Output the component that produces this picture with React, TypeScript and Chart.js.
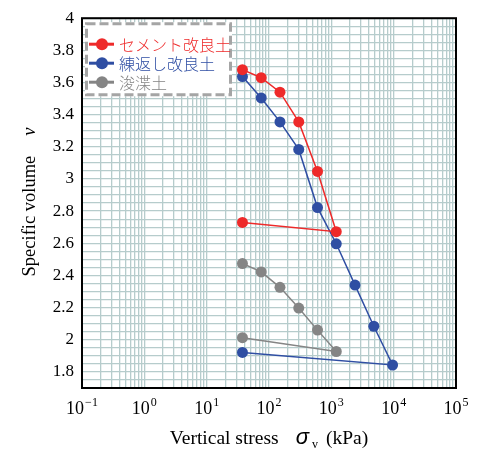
import React, { useEffect, useRef } from 'react';
import { Chart, registerables } from 'chart.js';

Chart.register(...registerables);

const seriesNames = ['セメント改良土', '練返し改良土', '浚渫土'];
const seriesColors = ['#ee2a2a', '#2f4ea3', '#858585'];

const cementStress = [37.5, 75, 150, 300, 600, 1200, 37.5];
const cementVolume = [3.68, 3.63, 3.54, 3.355, 3.047, 2.672, 2.73];

const remoldStress = [37.5, 75, 150, 300, 600, 1200, 2400, 4800, 9600, 37.5];
const remoldVolume = [3.637, 3.504, 3.355, 3.184, 2.822, 2.597, 2.34, 2.084, 1.843, 1.921];

const dredgedStress = [37.5, 75, 150, 300, 600, 1200, 37.5];
const dredgedVolume = [2.474, 2.422, 2.326, 2.197, 2.06, 1.927, 2.013];

const xExponents = [-1, 0, 1, 2, 3, 4, 5];
const yMin = 1.7;
const yMax = 4;
const yGridStepHundredths = 5;
const yLabelStepHundredths = 20;

const SERIF = '"Liberation Serif", "DejaVu Serif", serif';
const SANS = '"Liberation Sans", "DejaVu Sans", sans-serif';
const CJK = '"Noto Sans CJK JP", "Noto Sans", sans-serif';

const toPoints = (xs: number[], ys: number[]) => xs.map((x, i) => ({ x, y: ys[i] }));

const customPlugin = {
  id: 'customDecor',
  afterDatasetsDraw(chart: any) {
    const ctx = chart.ctx as CanvasRenderingContext2D;
    const ca = chart.chartArea;
    const left = ca.left + 3;
    const top = ca.top + 4;
    const w = 147;
    const h = 74;
    ctx.save();
    ctx.fillStyle = '#ffffff';
    ctx.fillRect(left, top, w, h);
    ctx.setLineDash([9, 4]);
    ctx.strokeStyle = '#a5a5a5';
    ctx.lineWidth = 3;
    ctx.strokeRect(left + 1.5, top + 1.5, w - 3, h - 3);
    ctx.setLineDash([]);
    seriesNames.forEach((name, i) => {
      const y = top + 22 + i * 19;
      const color = seriesColors[i];
      ctx.strokeStyle = color;
      ctx.lineWidth = 3;
      ctx.beginPath();
      ctx.moveTo(left + 4, y);
      ctx.lineTo(left + 29, y);
      ctx.stroke();
      ctx.fillStyle = color;
      ctx.beginPath();
      ctx.arc(left + 17, y, 6, 0, Math.PI * 2);
      ctx.fill();
      ctx.font = `300 16px ${CJK}`;
      ctx.textBaseline = 'middle';
      ctx.textAlign = 'left';
      ctx.fillText(name, left + 34, y + 1);
    });
    ctx.restore();
  },
  afterDraw(chart: any) {
    const ctx = chart.ctx as CanvasRenderingContext2D;
    const ca = chart.chartArea;
    const xs = chart.scales.x;
    ctx.save();
    // frame
    ctx.strokeStyle = '#000';
    ctx.lineWidth = 2;
    ctx.strokeRect(ca.left, ca.top, ca.right - ca.left, ca.bottom - ca.top);

    // x tick labels 10^n
    ctx.fillStyle = '#000';
    ctx.textBaseline = 'alphabetic';
    ctx.textAlign = 'left';
    xExponents.forEach((e) => {
      const px = xs.getPixelForValue(Math.pow(10, e));
      const base = '10';
      const exp = String(e).replace('-', '\u2212');
      ctx.font = `18px ${SERIF}`;
      const bw = ctx.measureText(base).width;
      ctx.font = `12px ${SERIF}`;
      const ew = ctx.measureText(exp).width;
      const total = bw + 1 + ew;
      const x0 = px - total / 2;
      ctx.font = `18px ${SERIF}`;
      ctx.fillText(base, x0, ca.bottom + 26);
      ctx.font = `12px ${SERIF}`;
      ctx.fillText(exp, x0 + bw + 1, ca.bottom + 18);
    });

    // x title
    const parts = [
      { t: 'Vertical stress', f: `19.5px ${SERIF}`, dy: 0, gap: 17 },
      { t: 'σ', f: `italic 22px ${SANS}`, dy: 0, gap: 3 },
      { t: 'v', f: `12px ${SERIF}`, dy: 4, gap: 8 },
      { t: '(kPa)', f: `19.5px ${SERIF}`, dy: 0, gap: 0 },
    ];
    let totalW = 0;
    parts.forEach((p) => {
      ctx.font = p.f;
      totalW += ctx.measureText(p.t).width + p.gap;
    });
    let cx = (ca.left + ca.right) / 2 - totalW / 2;
    const by = ca.bottom + 56;
    parts.forEach((p) => {
      ctx.font = p.f;
      ctx.fillText(p.t, cx, by + p.dy);
      cx += ctx.measureText(p.t).width + p.gap;
    });

    // y title (rotated)
    ctx.translate(35, 202);
    ctx.rotate(-Math.PI / 2);
    ctx.font = `18.5px ${SERIF}`;
    const t1 = 'Specific volume';
    const w1 = ctx.measureText(t1).width;
    ctx.font = `italic 18.5px ${SERIF}`;
    const w2 = ctx.measureText('v').width;
    const gap = 20;
    const tw = w1 + gap + w2;
    ctx.font = `18.5px ${SERIF}`;
    ctx.fillText(t1, -tw / 2, 0);
    ctx.font = `italic 18.5px ${SERIF}`;
    ctx.fillText('v', -tw / 2 + w1 + gap, 0);
    ctx.restore();
  },
};

export default function App() {
  const ref = useRef<HTMLCanvasElement | null>(null);

  useEffect(() => {
    document.body.style.margin = '0';
    const canvas = ref.current;
    if (!canvas) return;

    const xGrid: number[] = [];
    for (let e = -1; e < 5; e++) {
      for (let m = 1; m <= 9; m++) xGrid.push(m * Math.pow(10, e));
    }
    xGrid.push(1e5);
    const yGrid: number[] = [];
    for (let k = Math.round(yMin * 100); k <= Math.round(yMax * 100); k += yGridStepHundredths) {
      yGrid.push(k / 100);
    }

    const mk = (label: string, xs: number[], ys: number[], color: string) => ({
      label,
      data: toPoints(xs, ys),
      showLine: true,
      borderColor: color,
      backgroundColor: color,
      pointBackgroundColor: color,
      pointBorderColor: color,
      pointRadius: 5.5,
      pointBorderWidth: 0,
      borderWidth: 1.5,
      tension: 0,
    });

    const chart = new Chart(canvas, {
      type: 'scatter',
      data: {
        datasets: [
          mk(seriesNames[0], cementStress, cementVolume, seriesColors[0]),
          mk(seriesNames[1], remoldStress, remoldVolume, seriesColors[1]),
          mk(seriesNames[2], dredgedStress, dredgedVolume, seriesColors[2]),
        ],
      },
      options: {
        animation: false,
        responsive: false,
        devicePixelRatio: 1,
        layout: { padding: { top: 14, right: 23, left: 0, bottom: 0 } },
        plugins: {
          legend: { display: false },
          tooltip: { enabled: false },
        },
        scales: {
          x: {
            type: 'logarithmic',
            min: 0.1,
            max: 1e5,
            afterBuildTicks: (s: any) => {
              s.ticks = xGrid.map((v) => ({ value: v }));
            },
            afterFit: (s: any) => {
              s.height = 74;
            },
            ticks: { display: false, autoSkip: false },
            grid: { color: '#b6cccc', lineWidth: 1.3, drawTicks: false },
            border: { display: false },
          },
          y: {
            type: 'linear',
            min: yMin,
            max: yMax,
            afterBuildTicks: (s: any) => {
              s.ticks = yGrid.map((v) => ({ value: v }));
            },
            afterFit: (s: any) => {
              s.width = 82;
            },
            ticks: {
              autoSkip: false,
              padding: 8,
              color: '#000',
              font: { family: SERIF, size: 17 },
              callback: (value: any) => {
                const k = Math.round(Number(value) * 100);
                if (k % yLabelStepHundredths !== 0) return '';
                return String(Number((k / 100).toFixed(1)));
              },
            },
            grid: { color: '#b6cccc', lineWidth: 1.3, drawTicks: false },
            border: { display: false },
          },
        },
      },
      plugins: [customPlugin],
    });

    return () => chart.destroy();
  }, []);

  return (
    <div style={{ width: 479, height: 462, background: '#fff' }}>
      <canvas ref={ref} width={479} height={462} style={{ display: 'block', width: 479, height: 462 }} />
    </div>
  );
}
